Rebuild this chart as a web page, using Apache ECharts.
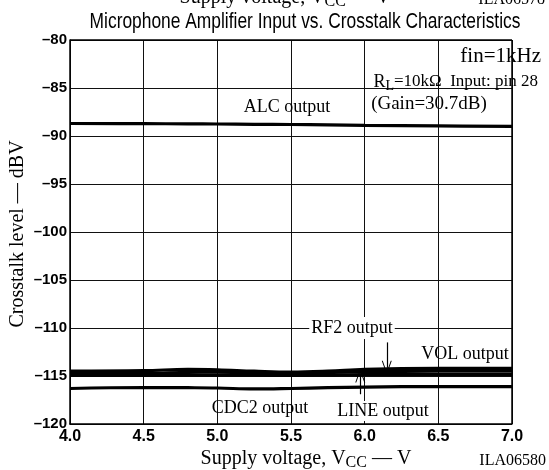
<!DOCTYPE html>
<html>
<head>
<meta charset="utf-8">
<script src="https://cdn.jsdelivr.net/npm/echarts@6/dist/echarts.min.js"></script>
<style>
  html, body { margin: 0; padding: 0; background: #fff; }
  #chart { width: 549px; height: 470px; }
</style>
</head>
<body>
<div id="chart"></div>
<script>
// supply voltage (V) and crosstalk level (dBV)
const vcc = [4.0, 4.5, 4.8, 5.0, 5.25, 5.5, 5.75, 6.0, 6.5, 7.0];
const alcOut = [-88.7, -88.72, -88.73, -88.75, -88.78, -88.8, -88.85, -88.9, -88.95, -89.0];
const volOut = [-114.5, -114.45, -114.3, -114.35, -114.5, -114.6, -114.5, -114.3, -114.2, -114.2];
const rf2Out = [-114.7, -114.7, -114.62, -114.6, -114.7, -114.75, -114.65, -114.55, -114.5, -114.5];
const lineOut = [-114.95, -114.95, -114.92, -114.9, -114.92, -114.95, -114.9, -114.85, -114.85, -114.85];
const cdc2Out = [-116.3, -116.2, -116.22, -116.25, -116.35, -116.3, -116.22, -116.15, -116.1, -116.1];

const xTicks = [4.0, 4.5, 5.0, 5.5, 6.0, 6.5, 7.0];
const yTicks = [-120, -115, -110, -105, -100, -95, -90, -85, -80];

const chart = echarts.init(document.getElementById('chart'));

const pair = (ys) => vcc.map((x, i) => [x, ys[i]]);

const curve = (name, ys, extra) => Object.assign({
    name: name,
    type: 'line',
    smooth: 0.4,
    showSymbol: false,
    data: pair(ys),
    lineStyle: { color: '#000', width: 3.2 },
    z: 5,
}, extra || {});

const serif = 'Liberation Serif, DejaVu Serif, serif';
const sans = 'Liberation Sans, Arial, sans-serif';

// open "V" arrow head
const chevron = 'path://M0,20 L5,0 L10,20 L9,20 L5,4 L1,20 Z';

const arrow = (x, yFrom, yTo) => ({
    silent: true,
    symbol: ['none', chevron],
    symbolSize: [10, 14],
    label: { show: false },
    lineStyle: { color: '#000', width: 1.2, type: 'solid' },
    data: [[{ coord: [x, yFrom] }, { coord: [x, yTo] }]],
});

chart.setOption({
    animation: false,
    grid: { left: 70, right: 37, top: 40, bottom: 46 },
    xAxis: {
        type: 'value',
        min: 4,
        max: 7,
        interval: 0.5,
        axisLine: { show: true, lineStyle: { color: '#000', width: 1.5 } },
        axisTick: { show: false },
        axisLabel: {
            color: '#000',
            fontFamily: sans,
            fontWeight: 'bold',
            fontSize: 16,
            margin: 5,
            formatter: (v) => xTicks.includes(v) ? v.toFixed(1) : '',
        },
        splitLine: { show: true, lineStyle: { color: '#111', width: 1 } },
    },
    yAxis: {
        type: 'value',
        min: -120,
        max: -80,
        interval: 5,
        axisLine: { show: true, lineStyle: { color: '#000', width: 1.5 } },
        axisTick: { show: false },
        axisLabel: {
            color: '#000',
            fontFamily: sans,
            fontWeight: 'bold',
            fontSize: 15,
            margin: 3,
            formatter: (v) => yTicks.includes(v) ? '\u2013' + Math.abs(v) : '',
        },
        splitLine: { show: true, lineStyle: { color: '#111', width: 1 } },
    },
    series: [
        curve('ALC output', alcOut),
        curve('VOL output', volOut, { markLine: arrow(6.15, -111.5, -114.15) }),
        curve('RF2 output', rf2Out),
        curve('LINE output', lineOut, { markLine: arrow(5.97, -116.9, -114.95) }),
        curve('CDC2 output', cdc2Out),
        {
            // closes the plot frame on the top and right
            type: 'line',
            silent: true,
            data: [],
            markLine: {
                silent: true,
                symbol: 'none',
                label: { show: false },
                lineStyle: { color: '#000', width: 1.5, type: 'solid' },
                data: [{ xAxis: 7 }, { yAxis: -80 }],
            },
        },
    ],
    graphic: [
        {
            type: 'text', x: 285, y: -14,
            style: {
                text: '{n|Supply voltage, V}{s|CC}{n| \u2014 V}',
                align: 'center', fill: '#000',
                rich: {
                    n: { font: '20px ' + serif, fill: '#000' },
                    s: { font: '16px ' + serif, fill: '#000', padding: [8, 0, 0, 0] },
                },
            },
        },
        {
            type: 'text', x: 545, y: -8,
            style: { text: 'ILA06578', font: '16px ' + serif, fill: '#000', align: 'right' },
        },
        {
            type: 'text', x: 305, y: 22, scaleX: 0.79,
            style: {
                text: 'Microphone Amplifier Input vs. Crosstalk Characteristics',
                font: '22px ' + sans, fill: '#000', align: 'center', verticalAlign: 'middle',
            },
        },
        {
            type: 'text', x: 541, y: 56, z: 10,
            style: { text: 'fin=1kHz', font: '21px ' + serif, fill: '#000', align: 'right', verticalAlign: 'middle' },
        },
        {
            type: 'text', x: 538, y: 82, z: 10,
            style: {
                text: '{n|R}{s|L}{m|=10k\u03a9  Input: pin 28}',
                align: 'right', verticalAlign: 'middle', fill: '#000',
                rich: {
                    n: { font: '18px ' + serif, fill: '#000' },
                    s: { font: '14px ' + serif, fill: '#000', padding: [8, 0, 0, 0] },
                    m: { font: '17px ' + serif, fill: '#000' },
                },
            },
        },
        {
            type: 'text', x: 429, y: 104, z: 10,
            style: { text: '(Gain=30.7dB)', font: '19px ' + serif, fill: '#000', align: 'center', verticalAlign: 'middle' },
        },
        {
            type: 'text', x: 287, y: 107, z: 10,
            style: { text: 'ALC output', font: '18px ' + serif, fill: '#000', align: 'center', verticalAlign: 'middle' },
        },
        {
            type: 'text', x: 352, y: 328, z: 10,
            style: {
                text: 'RF2 output', font: '18px ' + serif, fill: '#000', align: 'center', verticalAlign: 'middle',
                backgroundColor: '#fff', padding: [2, 2],
            },
        },
        {
            type: 'text', x: 465, y: 354, z: 10,
            style: { text: 'VOL output', font: '18px ' + serif, fill: '#000', align: 'center', verticalAlign: 'middle' },
        },
        {
            type: 'text', x: 260, y: 408, z: 10,
            style: { text: 'CDC2 output', font: '18px ' + serif, fill: '#000', align: 'center', verticalAlign: 'middle' },
        },
        {
            type: 'text', x: 383, y: 411, z: 10,
            style: {
                text: 'LINE output', font: '18px ' + serif, fill: '#000', align: 'center', verticalAlign: 'middle',
                backgroundColor: '#fff', padding: [1, 1],
            },
        },
        {
            type: 'text', x: 18, y: 234, rotation: Math.PI / 2,
            style: { text: 'Crosstalk level \u2014 dBV', font: '20px ' + serif, fill: '#000', align: 'center', verticalAlign: 'middle' },
        },
        {
            type: 'text', x: 306, y: 459,
            style: {
                text: '{n|Supply voltage, V}{s|CC}{n| \u2014 V}',
                align: 'center', verticalAlign: 'middle', fill: '#000',
                rich: {
                    n: { font: '20px ' + serif, fill: '#000' },
                    s: { font: '16px ' + serif, fill: '#000', padding: [8, 0, 0, 0] },
                },
            },
        },
        {
            type: 'text', x: 546, y: 461,
            style: { text: 'ILA06580', font: '16px ' + serif, fill: '#000', align: 'right', verticalAlign: 'middle' },
        },
    ],
});
</script>
</body>
</html>
